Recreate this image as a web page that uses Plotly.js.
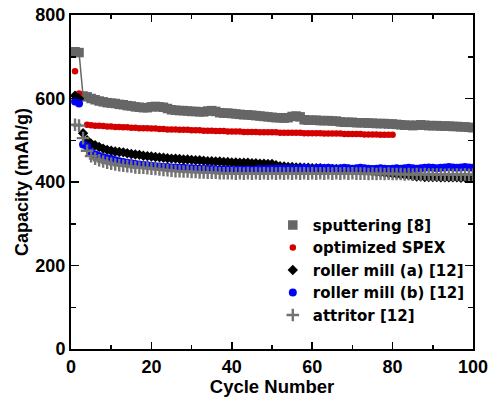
<!DOCTYPE html>
<html>
<head>
<meta charset="utf-8">
<script src="https://cdn.plot.ly/plotly-3.0.1.min.js"></script>
<style>html,body{margin:0;padding:0;background:#fff;}#chart{width:489px;height:397px;}</style>
</head>
<body>
<div id="chart"></div>
<script>
var cycles = [1,2,3,4,5,6,7,8,9,10,11,12,13,14,15,16,17,18,19,20,21,22,23,24,25,26,27,28,29,30,31,32,33,34,35,36,37,38,39,40,41,42,43,44,45,46,47,48,49,50,51,52,53,54,55,56,57,58,59,60,61,62,63,64,65,66,67,68,69,70,71,72,73,74,75,76,77,78,79,80,81,82,83,84,85,86,87,88,89,90,91,92,93,94,95,96,97,98,99,100];

var sputtering = [712,710,606,604,600,597,594,592,590,589,588,586,585,583,582,580,579,578,578,580,581,580,579,576,573,572,571,571,570,569,569,568,568,570,571,569,566,565,565,564,563,562,561,561,560,559,558,557,556,555,554,554,553,554,557,558,556,549,548,548,548,547,547,547,546,546,544,543,543,543,542,542,542,541,541,540,540,540,539,539,538,537,536,536,535,536,537,536,535,535,535,534,534,534,533,533,532,532,531,530];

var spexCycles = [1,2,4,5,6,7,8,9,10,11,12,13,14,15,16,17,18,19,20,21,22,23,24,25,26,27,28,29,30,31,32,33,34,35,36,37,38,39,40,41,42,43,44,45,46,47,48,49,50,51,52,53,54,55,56,57,58,59,60,61,62,63,64,65,66,67,68,69,70,71,72,73,74,75,76,77,78,79,80];
var spex = [665,612,537,536,535,535,534,533,533,532,532,531,531,530,530,529,529,529,528,528,527,527,526,526,526,525,525,525,524,524,524,523,523,523,522,522,522,521,521,521,521,520,520,520,520,519,519,519,519,519,518,518,518,518,518,518,517,517,517,517,517,516,516,516,516,516,515,515,515,515,515,514,514,514,514,513,513,513,513];

var rollerA = [607,600,517,500,492,488,484,480,477,475,473,472,471,469,467,466,465,463,462,461,460,459,458,457,456,456,455,454,454,453,452,452,451,450,450,449,449,448,448,447,447,446,446,446,445,445,444,444,443,443,440,438,437,436,436,435,435,434,434,433,433,433,432,432,431,431,430,430,430,429,429,428,428,427,425,424,423,422,421,420,419,418,417,416,414,413,413,412,412,412,412,411,411,411,411,411,410,411,411,411];

var rollerB = [593,588,490,485,472,466,462,459,457,455,452,450,448,446,445,443,442,441,440,439,438,437,436,436,435,435,434,434,433,433,432,432,431,431,431,430,430,430,430,429,429,430,429,430,429,430,431,430,431,432,431,432,433,432,433,432,433,434,433,432,433,434,433,434,433,432,433,434,433,432,433,434,433,432,431,432,433,432,431,432,433,432,433,434,433,432,433,434,435,434,433,434,435,436,435,434,435,436,435,434];

var attritor = [537,535,505,475,462,456,452,449,446,444,442,440,439,438,437,435,434,434,433,432,431,430,429,428,427,426,426,425,425,424,424,423,423,422,422,422,421,421,421,421,420,421,420,421,420,421,420,421,420,421,420,421,420,421,420,421,420,421,420,421,420,421,420,421,420,421,420,421,420,421,420,420,420,419,420,419,420,419,420,419,419,419,418,419,418,419,418,419,418,418,418,418,417,418,417,418,417,418,417,417];

var names = ['sputtering [8]','optimized SPEX','roller mill (a) [12]','roller mill (b) [12]','attritor [12]'];

var font = {family:'Liberation Sans, Arial, sans-serif', color:'#000', weight:'bold'};
var legendFont = {family:'DejaVu Sans, sans-serif', color:'#000', weight:'bold', size:15};

var traces = [
  {x:cycles, y:sputtering, name:names[0], type:'scatter', mode:'lines', showlegend:false,
   line:{color:'#666666', width:1.5}, hoverinfo:'skip'},
  {x:cycles, y:sputtering, name:names[0], type:'scatter', mode:'markers',
   marker:{symbol:'square', size:9.5, color:'#666666'}},
  {x:spexCycles, y:spex, name:names[1], type:'scatter', mode:'markers',
   marker:{symbol:'circle', size:6.5, color:'#d40000'}},
  {x:cycles, y:rollerA, name:names[2], type:'scatter', mode:'markers',
   marker:{symbol:'diamond', size:8, color:'#000000'}},
  {x:cycles, y:rollerB, name:names[3], type:'scatter', mode:'markers',
   marker:{symbol:'circle', size:8, color:'#0000ff'}},
  {x:cycles, y:attritor, name:names[4], type:'scatter', mode:'markers',
   marker:{symbol:'cross-thin', size:9, color:'#737373', line:{color:'#737373', width:2.4}}}
];

var axisCommon = {
  showline:true, linecolor:'#000', linewidth:2, mirror:'allticks',
  ticks:'inside', tickcolor:'#000', tickwidth:1.5, showgrid:false, zeroline:false,
  tickfont:Object.assign({size:18}, font)
};

var layout = {
  width:489, height:397,
  margin:{l:71, r:16, t:15, b:48},
  paper_bgcolor:'#fff', plot_bgcolor:'#fff',
  showlegend:true,
  legend:{x:0.502, y:0.42, xanchor:'left', yanchor:'top', bgcolor:'rgba(0,0,0,0)',
    font:legendFont, tracegroupgap:0},
  xaxis:Object.assign({}, axisCommon, {
    range:[0,100], tickvals:[0,20,40,60,80,100], ticklen:7,
    minor:{tickvals:[10,30,50,70,90], ticklen:4, ticks:'inside', tickcolor:'#000', tickwidth:1.5},
    title:{text:'Cycle Number', font:Object.assign({size:18.5}, font), standoff:2}
  }),
  yaxis:Object.assign({}, axisCommon, {
    range:[0,800], tickvals:[0,200,400,600,800], ticklen:8,
    minor:{tickvals:[100,300,500,700], ticklen:5, ticks:'inside', tickcolor:'#000', tickwidth:1.5},
    title:{text:'Capacity (mAh/g)', font:Object.assign({size:18}, font), standoff:2}
  })
};

Plotly.newPlot('chart', traces, layout, {displayModeBar:false, staticPlot:true});
</script>
</body>
</html>
